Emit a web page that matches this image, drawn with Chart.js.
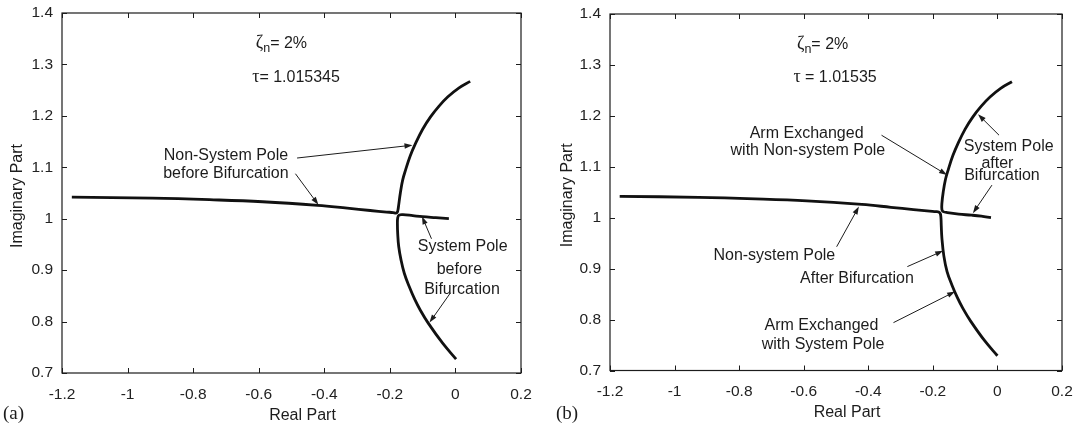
<!DOCTYPE html>
<html lang="en">
<head>
<meta charset="UTF-8">
<title>Root loci near the bifurcation point</title>
<script src="https://cdn.jsdelivr.net/npm/chart.js"></script>
<style>
  body { margin: 0; background: #fff; }
  .panel { position: absolute; top: 0; }
  #wrapA { left: 0; }
  #wrapB { left: 540px; }
</style>
</head>
<body>
<div class="panel" id="wrapA"><canvas id="chartA" width="540" height="425"></canvas></div>
<div class="panel" id="wrapB"><canvas id="chartB" width="541" height="425"></canvas></div>
<script>
// axis ticks shared by both panels
const xTicks = [-1.2, -1, -0.8, -0.6, -0.4, -0.2, 0, 0.2];
const xTickLabels = ['-1.2', '-1', '-0.8', '-0.6', '-0.4', '-0.2', '0', '0.2'];
const yTicks = [0.7, 0.8, 0.9, 1.0, 1.1, 1.2, 1.3, 1.4];
const yTickLabels = ['0.7', '0.8', '0.9', '1', '1.1', '1.2', '1.3', '1.4'];

// (a) tau = 1.015345 : non-system pole runs in from the left and turns up
const aPole1X = [-1.17, -0.925, -0.75, -0.588, -0.42, -0.33, -0.26, -0.21, -0.19, -0.181, -0.177,
                 -0.175, -0.173, -0.168, -0.161, -0.152, -0.138, -0.122, -0.100, -0.076, -0.050, -0.023, 0.010, 0.045];
const aPole1Y = [1.042, 1.040, 1.037, 1.033, 1.026, 1.0205, 1.016, 1.013, 1.012, 1.011, 1.013,
                 1.018, 1.027, 1.050, 1.075, 1.095, 1.122, 1.146, 1.174, 1.198, 1.219, 1.237, 1.254, 1.267];
// (a) system pole comes up from below and turns right
const aPole2X = [0.002, -0.039, -0.083, -0.107, -0.124, -0.141, -0.156, -0.166, -0.173, -0.176, -0.177,
                 -0.176, -0.172, -0.160, -0.13, -0.10, -0.06, -0.02];
const aPole2Y = [0.727, 0.758, 0.797, 0.822, 0.843, 0.868, 0.894, 0.920, 0.946, 0.970, 0.990,
                 1.002, 1.007, 1.008, 1.006, 1.004, 1.002, 1.000];

// (b) tau = 1.01535 : arms exchanged
const bPole1X = [-1.17, -0.925, -0.75, -0.59, -0.42, -0.33, -0.26, -0.21, -0.19, -0.182, -0.177,
                 -0.175, -0.174, -0.172, -0.166, -0.156, -0.141, -0.124, -0.107, -0.083, -0.039, 0.0];
const bPole1Y = [1.042, 1.040, 1.037, 1.033, 1.026, 1.0205, 1.016, 1.013, 1.012, 1.011, 1.008,
                 1.000, 0.985, 0.960, 0.925, 0.894, 0.868, 0.843, 0.822, 0.797, 0.758, 0.729];
const bPole2X = [0.045, 0.010, -0.023, -0.050, -0.076, -0.100, -0.122, -0.138, -0.152, -0.161, -0.168,
                 -0.172, -0.172, -0.168, -0.155, -0.12, -0.08, -0.05, -0.02];
const bPole2Y = [1.267, 1.254, 1.237, 1.219, 1.198, 1.174, 1.146, 1.122, 1.095, 1.075, 1.050,
                 1.028, 1.016, 1.012, 1.010, 1.007, 1.005, 1.003, 1.000];

const SANS = "'Liberation Sans', Arial, sans-serif";
const SERIF = "'Liberation Serif', 'Times New Roman', serif";
const INK = '#1c1c1c';

function toPoints(xs, ys) {
  return xs.map((x, i) => ({ x: x, y: ys[i] }));
}

function drawArrow(ctx, x1, y1, x2, y2) {
  const a = Math.atan2(y2 - y1, x2 - x1);
  const L = 8, W = 2.7;
  ctx.beginPath();
  ctx.moveTo(x1, y1);
  ctx.lineTo(x2 - (L - 2) * Math.cos(a), y2 - (L - 2) * Math.sin(a));
  ctx.stroke();
  ctx.beginPath();
  ctx.moveTo(x2, y2);
  ctx.lineTo(x2 - L * Math.cos(a) + W * Math.sin(a), y2 - L * Math.sin(a) - W * Math.cos(a));
  ctx.lineTo(x2 - L * Math.cos(a) - W * Math.sin(a), y2 - L * Math.sin(a) + W * Math.cos(a));
  ctx.closePath();
  ctx.fill();
}

// box, inward ticks, titles and the callout labels
const framePlugin = {
  id: 'frame',
  afterDraw(chart, args, opts) {
    const { ctx, chartArea: ca } = chart;
    const xs = chart.scales.x, ys = chart.scales.y;
    ctx.save();
    ctx.strokeStyle = INK;
    ctx.lineWidth = 1.2;
    ctx.strokeRect(ca.left, ca.top, ca.right - ca.left, ca.bottom - ca.top);
    ctx.lineWidth = 1;
    xTicks.forEach(v => {
      const px = Math.round(xs.getPixelForValue(v)) + 0.5;
      ctx.beginPath();
      ctx.moveTo(px, ca.bottom); ctx.lineTo(px, ca.bottom - 5);
      ctx.moveTo(px, ca.top); ctx.lineTo(px, ca.top + 5);
      ctx.stroke();
    });
    yTicks.forEach(v => {
      const py = Math.round(ys.getPixelForValue(v)) + 0.5;
      ctx.beginPath();
      ctx.moveTo(ca.left, py); ctx.lineTo(ca.left + 5, py);
      ctx.moveTo(ca.right, py); ctx.lineTo(ca.right - 5, py);
      ctx.stroke();
    });

    ctx.fillStyle = INK;
    // axis titles
    ctx.font = '16px ' + SANS;
    ctx.textAlign = 'center';
    ctx.textBaseline = 'alphabetic';
    ctx.fillText('Real Part', (ca.left + ca.right) / 2 + 11, ca.bottom + opts.xTitleGap);
    ctx.save();
    ctx.translate(opts.yTitleX, (ca.top + ca.bottom) / 2 + 3);
    ctx.rotate(-Math.PI / 2);
    ctx.fillText('Imaginary Part', 0, 0);
    ctx.restore();

    // panel letter
    ctx.font = '19px ' + SERIF;
    ctx.textAlign = 'left';
    ctx.textBaseline = 'middle';
    ctx.fillText(opts.letter, opts.letterX, 414);

    // damping ratio and delay
    ctx.textBaseline = 'alphabetic';
    let px = xs.getPixelForValue(opts.zeta.x);
    let py = ys.getPixelForValue(opts.zeta.y);
    ctx.font = '18px ' + SERIF;
    ctx.fillText('\u03B6', px, py);
    px += ctx.measureText('\u03B6').width;
    ctx.font = '12.5px ' + SANS;
    ctx.fillText('n', px, py + 4);
    px += ctx.measureText('n').width;
    ctx.font = '16px ' + SANS;
    ctx.fillText('= 2%', px, py);

    px = xs.getPixelForValue(opts.tau.x);
    py = ys.getPixelForValue(opts.tau.y);
    ctx.font = '18px ' + SERIF;
    ctx.fillText('\u03C4', px, py);
    px += ctx.measureText('\u03C4').width;
    ctx.font = '16px ' + SANS;
    ctx.fillText(opts.tau.text, px, py);

    // callouts
    ctx.font = '16px ' + SANS;
    ctx.textAlign = 'center';
    ctx.textBaseline = 'middle';
    opts.notes.forEach(n => {
      ctx.fillText(n.text, xs.getPixelForValue(n.x), ys.getPixelForValue(n.y));
    });
    ctx.lineWidth = 1;
    opts.arrows.forEach(a => {
      drawArrow(ctx,
        xs.getPixelForValue(a.from[0]), ys.getPixelForValue(a.from[1]),
        xs.getPixelForValue(a.to[0]), ys.getPixelForValue(a.to[1]));
    });
    ctx.restore();
  }
};

function makePanel(canvasId, poles, layout, frame) {
  const tickFont = { family: SANS, size: 15.5 };
  return new Chart(document.getElementById(canvasId), {
    type: 'scatter',
    data: {
      datasets: poles.map(p => ({
        data: p,
        showLine: true,
        borderColor: '#111',
        borderWidth: 2.8,
        pointRadius: 0,
        tension: 0.4,
        clip: false
      }))
    },
    options: {
      responsive: false,
      animation: false,
      events: [],
      layout: { padding: { top: layout.top, right: 19, left: 0, bottom: 0 } },
      plugins: { legend: { display: false }, tooltip: { enabled: false }, frame: frame },
      scales: {
        x: {
          type: 'linear', min: -1.2, max: 0.2,
          grid: { display: false, drawTicks: false },
          border: { display: false },
          ticks: {
            padding: 12, color: '#222', font: tickFont, autoSkip: false, maxRotation: 0,
            callback: (v, i) => xTickLabels[i]
          },
          afterBuildTicks: s => { s.ticks = xTicks.map(v => ({ value: v })); },
          afterFit: s => { s.height = layout.xAxisH; s.paddingLeft = 0; s.paddingRight = 0; }
        },
        y: {
          type: 'linear', min: 0.7, max: 1.4,
          grid: { display: false, drawTicks: false },
          border: { display: false },
          ticks: {
            padding: 9, color: '#222', font: tickFont, autoSkip: false,
            callback: (v, i) => yTickLabels[i]
          },
          afterBuildTicks: s => { s.ticks = yTicks.map(v => ({ value: v })); },
          afterFit: s => { s.width = layout.yAxisW; s.paddingTop = 0; s.paddingBottom = 0; }
        }
      }
    },
    plugins: [framePlugin]
  });
}

makePanel('chartA', [toPoints(aPole1X, aPole1Y), toPoints(aPole2X, aPole2Y)],
  { top: 13, xAxisH: 52, yAxisW: 62 },
  {
    letter: '(a)', letterX: 3, xTitleGap: 47, yTitleX: 22,
    zeta: { x: -0.609, y: 1.332 },
    tau: { x: -0.62, y: 1.266, text: '= 1.015345' },
    notes: [
      { x: -0.70, y: 1.123, text: 'Non-System Pole' },
      { x: -0.70, y: 1.087, text: 'before Bifurcation' },
      { x: 0.022, y: 0.946, text: 'System Pole' },
      { x: 0.012, y: 0.902, text: 'before' },
      { x: 0.020, y: 0.863, text: 'Bifurcation' }
    ],
    arrows: [
      { from: [-0.483, 1.118], to: [-0.131, 1.143] },
      { from: [-0.488, 1.0875], to: [-0.418, 1.027] },
      { from: [-0.073, 0.961], to: [-0.102, 1.0045] },
      { from: [-0.015, 0.856], to: [-0.079, 0.798] }
    ]
  });

makePanel('chartB', [toPoints(bPole1X, bPole1Y), toPoints(bPole2X, bPole2Y)],
  { top: 14, xAxisH: 54.5, yAxisW: 70 },
  {
    letter: '(b)', letterX: 16, xTitleGap: 46.5, yTitleX: 32,
    zeta: { x: -0.621, y: 1.331 },
    tau: { x: -0.632, y: 1.267, text: ' = 1.01535' },
    notes: [
      { x: -0.591, y: 1.166, text: 'Arm Exchanged' },
      { x: -0.587, y: 1.131, text: 'with Non-system Pole' },
      { x: 0.035, y: 1.139, text: 'System Pole' },
      { x: 0.0, y: 1.107, text: 'after' },
      { x: 0.014, y: 1.082, text: 'Bifurcation' },
      { x: -0.691, y: 0.925, text: 'Non-system Pole' },
      { x: -0.435, y: 0.881, text: 'After Bifurcation' },
      { x: -0.545, y: 0.788, text: 'Arm Exchanged' },
      { x: -0.540, y: 0.751, text: 'with System Pole' }
    ],
    arrows: [
      { from: [-0.359, 1.162], to: [-0.156, 1.084] },
      { from: [0.005, 1.162], to: [-0.060, 1.203] },
      { from: [-0.017, 1.064], to: [-0.076, 1.009] },
      { from: [-0.498, 0.943], to: [-0.429, 1.022] },
      { from: [-0.279, 0.904], to: [-0.168, 0.935] },
      { from: [-0.322, 0.794], to: [-0.131, 0.855] }
    ]
  });
</script>
</body>
</html>
